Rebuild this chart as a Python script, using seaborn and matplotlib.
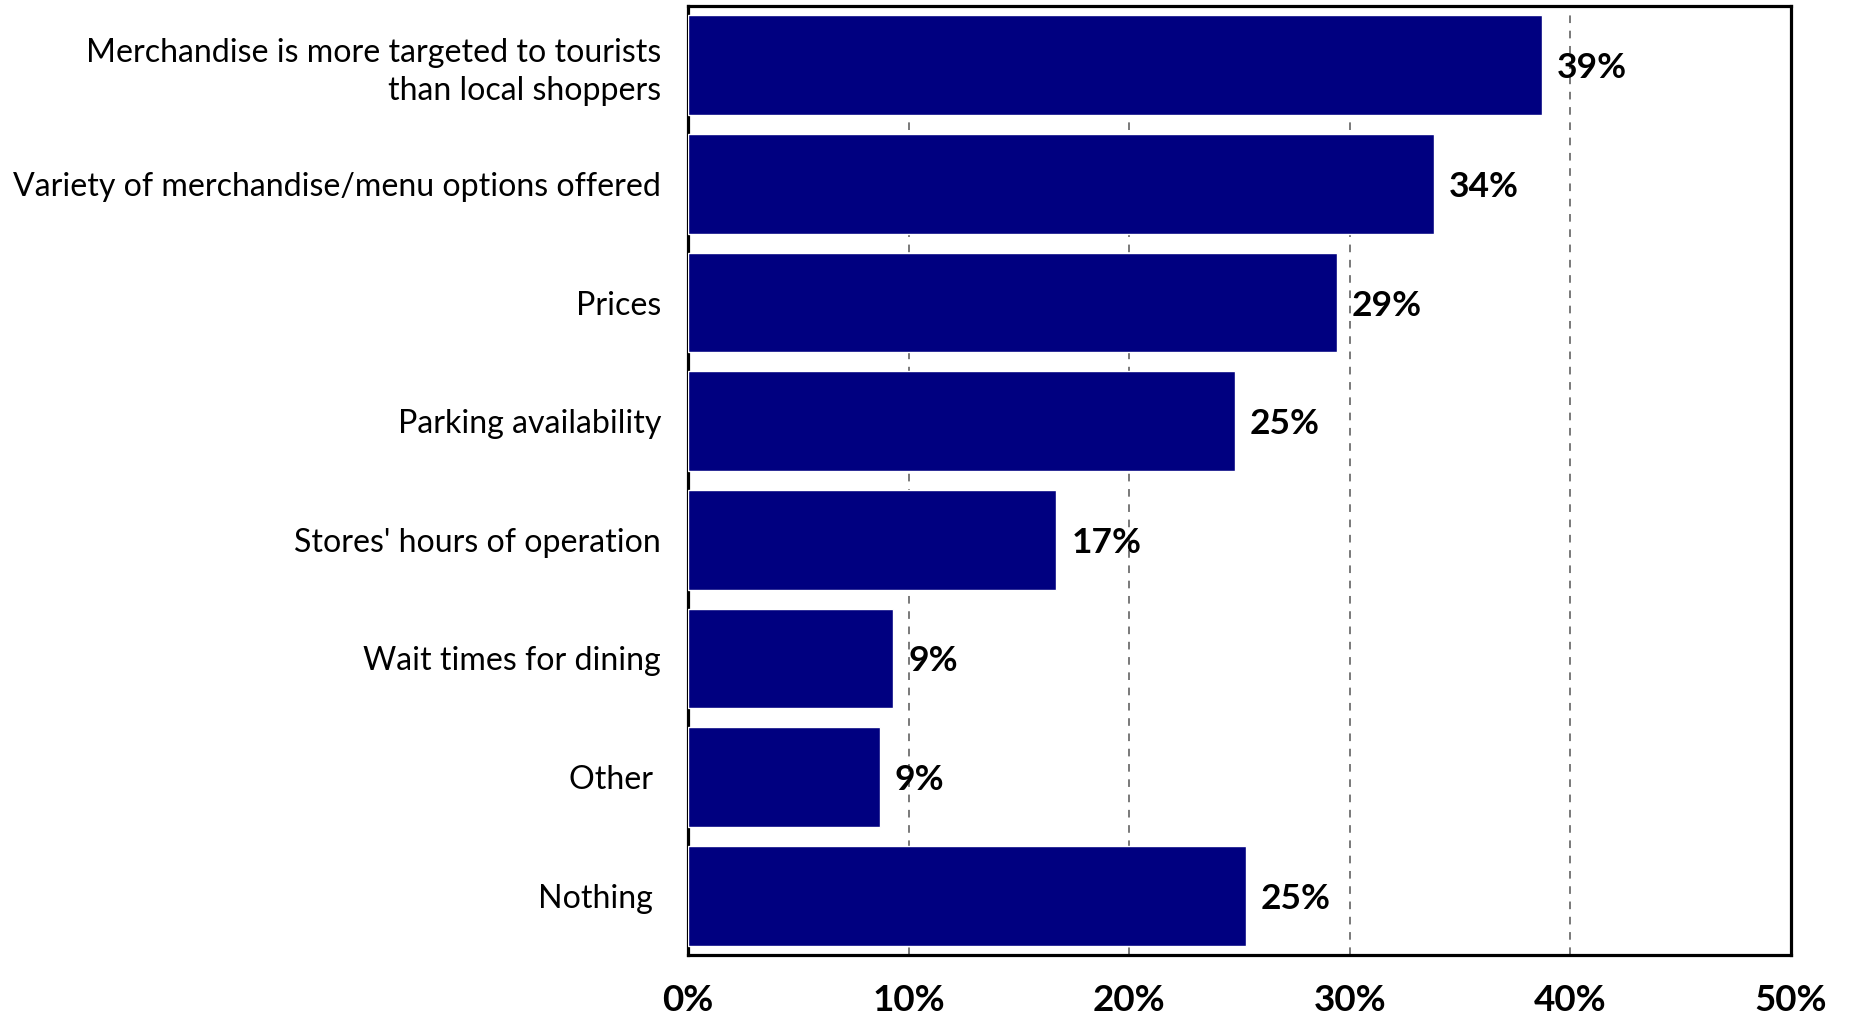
import matplotlib
matplotlib.use("Agg")
import matplotlib.pyplot as plt
import seaborn as sns
import pandas as pd

# Survey responses: share of respondents per reason
categories = [
    "Merchandise is more targeted to tourists\nthan local shoppers",
    "Variety of merchandise/menu options offered",
    "Prices",
    "Parking availability",
    "Stores' hours of operation",
    "Wait times for dining",
    "Other ",
    "Nothing ",
]
values = [38.7, 33.8, 29.4, 24.8, 16.7, 9.3, 8.7, 25.3]
value_labels = ["39%", "34%", "29%", "25%", "17%", "9%", "9%", "25%"]
x_ticks = [0, 10, 20, 30, 40, 50]
x_tick_labels = ["0%", "10%", "20%", "30%", "40%", "50%"]

df = pd.DataFrame({"reason": categories, "share": values})

sns.set_theme(style="white")
plt.rcParams["font.family"] = ["Lato", "DejaVu Sans"]

fig = plt.figure(figsize=(18.51, 10.18), dpi=100)
ax = fig.add_axes([688 / 1851, 1 - 955 / 1018, (1791 - 688) / 1851, (955 - 6) / 1018])

sns.barplot(data=df, x="share", y="reason", orient="h", color="#000080",
            saturation=1, width=0.84, ax=ax, zorder=3)

ax.set_xlim(0, 50)
ax.set_ylim(7.5, -0.5)
ax.set_xticks(x_ticks)
ax.set_xticklabels(x_tick_labels, fontsize=26.5, fontweight="bold")
ax.set_xlabel("")
ax.set_ylabel("")
ax.tick_params(axis="x", direction="in", length=7, width=1, color="#555555", pad=21)
ax.tick_params(axis="y", length=0, pad=19.5, labelsize=23.1)
for lbl in ax.get_yticklabels():
    lbl.set_horizontalalignment("right")
    lbl.set_multialignment("right")
    lbl.set_linespacing(1.3)
    lbl.set_color("black")
for lbl in ax.get_xticklabels():
    lbl.set_color("black")

# dashed vertical gridlines behind the bars
for gx in [10, 20, 30, 40]:
    ax.axvline(gx, color="#555555", linestyle=(0, (5, 5)), linewidth=1.1, zorder=1)

for sp in ax.spines.values():
    sp.set_visible(True)
    sp.set_color("black")
    sp.set_linewidth(2.3)

for i, (v, t) in enumerate(zip(values, value_labels)):
    ax.annotate(t, xy=(v, i), xytext=(15, -3), textcoords="offset pixels",
                ha="left", va="center", fontsize=25.5, fontweight="bold",
                color="black", zorder=5)

fig.savefig("out.png", dpi=100, facecolor="white")
